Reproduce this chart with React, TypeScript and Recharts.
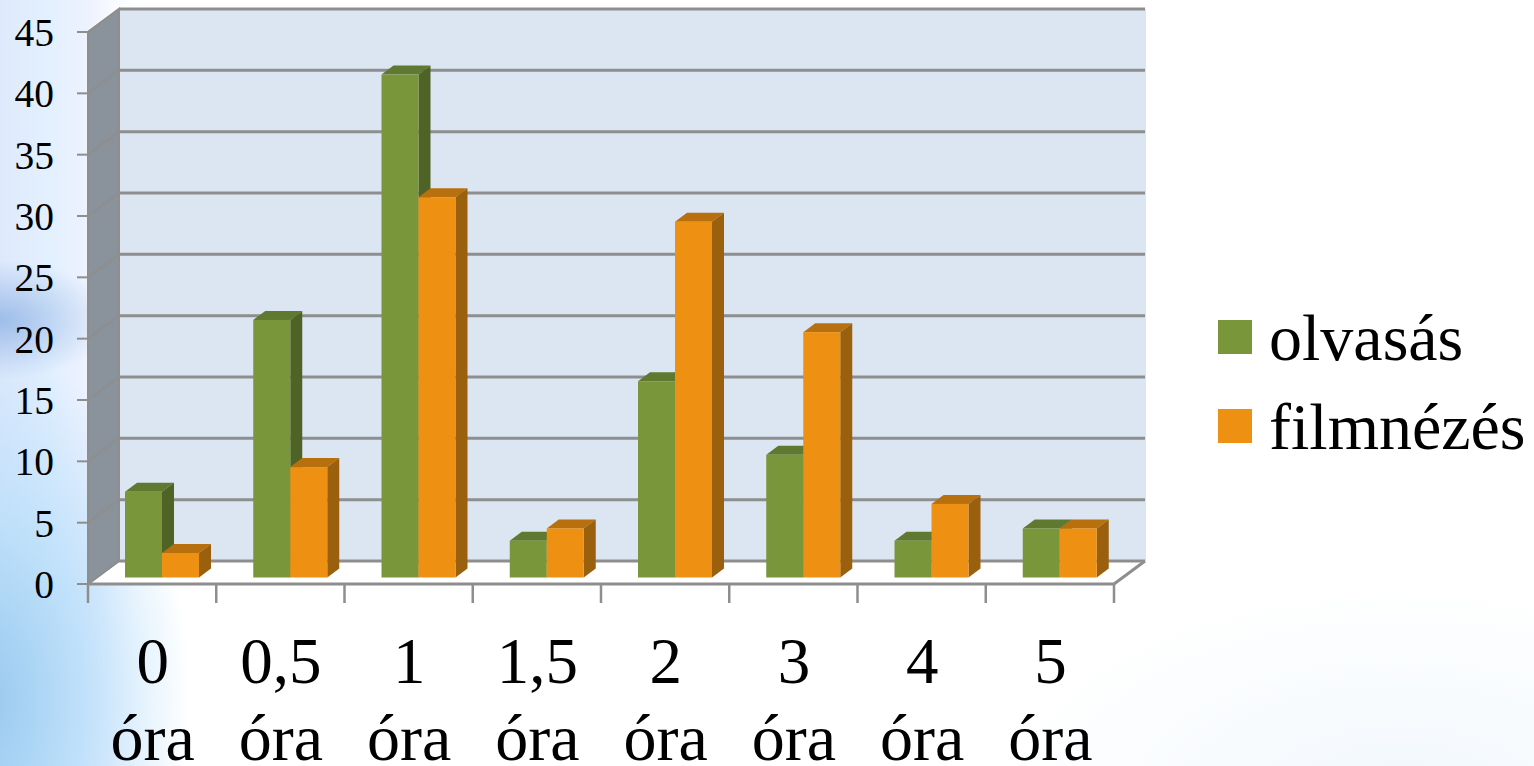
import React from "react";
import { BarChart, Bar, XAxis, YAxis, CartesianGrid, Legend } from "recharts";

const categories = ["0 óra", "0,5 óra", "1 óra", "1,5 óra", "2 óra", "3 óra", "4 óra", "5 óra"];
const olvasas = [7, 21, 41, 3, 16, 10, 3, 4];
const filmnezes = [2, 9, 31, 4, 29, 20, 6, 4];
const yTicks = [0, 5, 10, 15, 20, 25, 30, 35, 40, 45];
const seriesNames = ["olvasás", "filmnézés"];
const rows = categories.map((name, i) => ({ name, olvasas: olvasas[i], filmnezes: filmnezes[i] }));

const FONT = "'Liberation Serif', 'Times New Roman', serif";
const LINE = "#8e8e8e";
const DX = 31;
const DY = -23;
const BAR_SHIFT = 9.5;
const BAR_LIFT = -6.5;
const BAR_DX = 12;
const BAR_DY = -9;
const BAND = 128.25;

const GREEN = { front: "#7a963a", top: "#5f7a30", side: "#4f6327" };
const ORANGE = { front: "#ee9012", top: "#b8700e", side: "#9a600d" };

const Box3D = (c: typeof GREEN) => (props: any) => {
  const { x: x0, y, width, height } = props;
  const x = x0 + BAR_SHIFT;
  const top = y + BAR_LIFT;
  const r = x + width;
  const b = top + height;
  return (
    <g>
      <polygon points={`${x},${top} ${x + BAR_DX},${top + BAR_DY} ${r + BAR_DX},${top + BAR_DY} ${r},${top}`} fill={c.top} />
      <polygon points={`${r},${top} ${r + BAR_DX},${top + BAR_DY} ${r + BAR_DX},${b + BAR_DY} ${r},${b}`} fill={c.side} />
      <rect x={x} y={top} width={width} height={height} fill={c.front} />
    </g>
  );
};

const Walls = ({ x, y, width, height }: any) => {
  const r = x + width;
  const b = y + height;
  return (
    <g>
      <polygon points={`${x},${b} ${x + DX},${b + DY} ${r + DX},${b + DY} ${r},${b}`} fill="#ffffff" />
      <rect x={x + DX} y={y + DY} width={width + 1} height={height} fill="#dce6f2" />
      <polygon points={`${x},${y} ${x + DX},${y + DY} ${x + DX},${b + DY} ${x},${b}`} fill="#8a929b" stroke={LINE} strokeWidth={2} />
      <line x1={r} y1={b} x2={r + DX} y2={b + DY} stroke={LINE} strokeWidth={3} />
    </g>
  );
};

const gridLine = (props: any) => {
  const { x1, x2, y1, index, x, y, width, height } = props;
  return (
    <g key={`g-${index}`}>
      {index === 0 && <Walls x={x} y={y} width={width} height={height} />}
      <line x1={x1} y1={y1} x2={x1 + DX} y2={y1 + DY} stroke={LINE} strokeWidth={2} />
      <line x1={x1 + DX} y1={y1 + DY} x2={x2 + DX} y2={y1 + DY} stroke={LINE} strokeWidth={3} />
    </g>
  );
};

const XTick = (props: any) => {
  const { x, payload, index } = props;
  const [num, unit] = String(payload.value).split(" ");
  const left = x - BAND / 2;
  return (
    <g>
      <line x1={left} y1={584} x2={left} y2={603} stroke={LINE} strokeWidth={2.5} />
      {index === categories.length - 1 && (
        <line x1={left + BAND} y1={584} x2={left + BAND} y2={603} stroke={LINE} strokeWidth={2.5} />
      )}
      <text x={x + 0.5} y={683} textAnchor="middle" fontSize={65} fontFamily={FONT} fill="#000">{num}</text>
      <text x={x + 0.5} y={760} textAnchor="middle" fontSize={66} fontFamily={FONT} fill="#000">{unit}</text>
    </g>
  );
};

const LegendBox = (props: any) => (
  <div style={{ fontFamily: FONT, fontSize: 66, color: "#000", lineHeight: "89px" }}>
    {(props.payload || []).map((p: any) => (
      <div key={p.value} style={{ position: "relative", height: 89, whiteSpace: "nowrap", paddingLeft: 51 }}>
        <span style={{ position: "absolute", left: 0, top: 27, width: 34, height: 34, background: p.color }} />
        {p.value}
      </div>
    ))}
  </div>
);

const background = [
  "radial-gradient(ellipse 210px 360px at -20px 700px, rgba(150,200,238,1), rgba(185,222,250,0.85) 50%, rgba(225,238,252,0) 100%)",
  "radial-gradient(ellipse 110px 60px at 0px 320px, rgba(130,170,225,0.7), rgba(150,185,235,0) 100%)",
  "radial-gradient(ellipse 420px 220px at 1400px 800px, rgba(225,238,250,0.45), rgba(225,238,250,0) 100%)",
  "linear-gradient(90deg, #dfe9fc 0px, #e3f0fe 50px, #eef2fe 90px, #fafbff 115px, #ffffff 135px)",
].join(", ");

export default function App() {
  return (
    <div style={{ position: "absolute", left: 0, top: 0, width: 1534, height: 766, overflow: "hidden", background }}>
      <BarChart
        width={1534}
        height={766}
        data={rows}
        margin={{ top: 32, right: 420, bottom: 82, left: 28 }}
        barCategoryGap={27.5}
        barGap={0}
        style={{ fontFamily: FONT }}
      >
        <CartesianGrid vertical={false} horizontal={gridLine} syncWithTicks />
        <XAxis
          dataKey="name"
          height={100}
          interval={0}
          tickLine={false}
          axisLine={{ stroke: LINE, strokeWidth: 3 }}
          tick={XTick}
        />
        <YAxis
          width={60}
          domain={[0, 45]}
          ticks={yTicks}
          interval={0}
          axisLine={false}
          tickLine={{ stroke: LINE, strokeWidth: 2 }}
          tickSize={11}
          tickMargin={23}
          tick={{ fontSize: 39.5, fill: "#000", fontFamily: FONT }}
        />
        <Bar dataKey="olvasas" name={seriesNames[0]} fill={GREEN.front} isAnimationActive={false} shape={Box3D(GREEN)} />
        <Bar dataKey="filmnezes" name={seriesNames[1]} fill={ORANGE.front} isAnimationActive={false} shape={Box3D(ORANGE)} />
        <Legend
          layout="vertical"
          align="center"
          verticalAlign="middle"
          content={LegendBox}
          itemSorter={(item: any) => seriesNames.indexOf(item.value)}
          wrapperStyle={{ position: "absolute", left: 1218, top: 293, width: 316, bottom: "auto", right: "auto" }}
        />
      </BarChart>
    </div>
  );
}
